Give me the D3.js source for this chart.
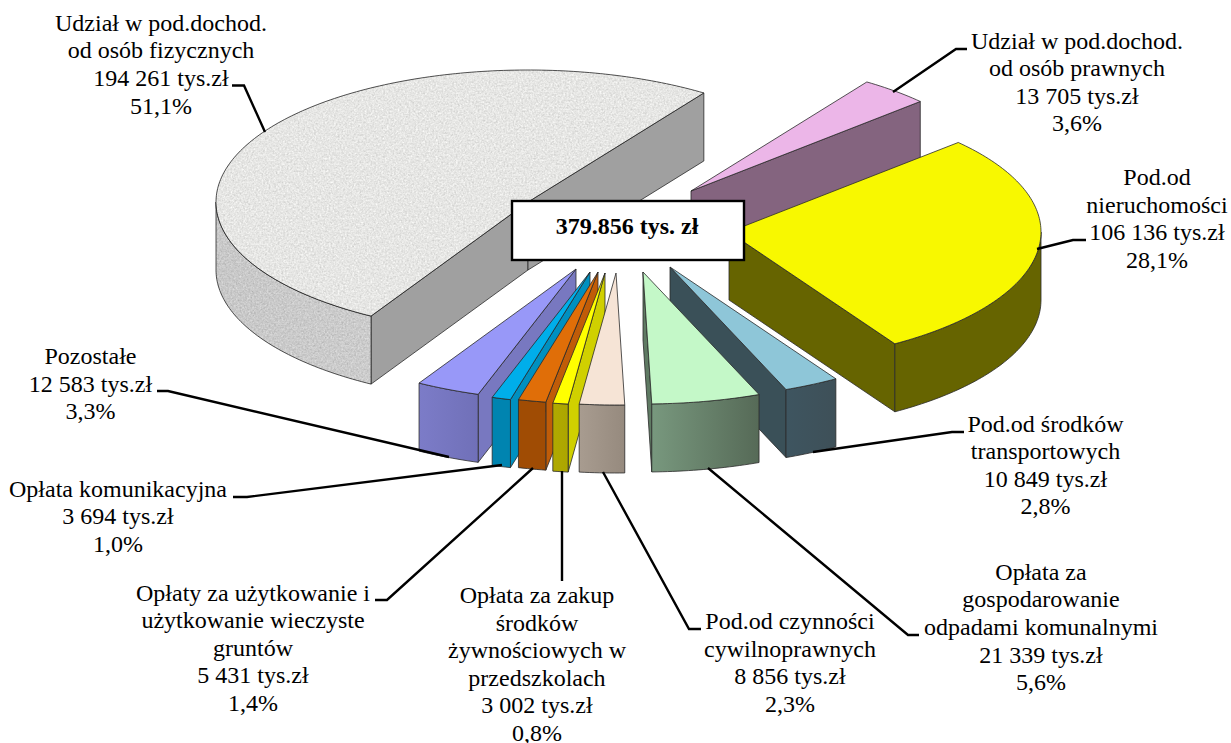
<!DOCTYPE html>
<html lang="pl">
<head>
<meta charset="utf-8">
<script src="https://cdn.jsdelivr.net/npm/d3@7"></script>
<style>
html,body{margin:0;padding:0;background:#fff;}
svg{display:block;}
text{font-family:"Liberation Serif","Times New Roman",serif;fill:#000;}
</style>
</head>
<body>
<svg id="chart" width="1231" height="743"></svg>
<script>
// ---------- data ----------
const categories = [
  "Udział w pod.dochod. od osób fizycznych",
  "Udział w pod.dochod. od osób prawnych",
  "Pod.od nieruchomości",
  "Pod.od środków transportowych",
  "Opłata za gospodarowanie odpadami komunalnymi",
  "Pod.od czynności cywilnoprawnych",
  "Opłata za zakup środków żywnościowych w przedszkolach",
  "Opłaty za użytkowanie i użytkowanie wieczyste gruntów",
  "Opłata komunikacyjna",
  "Pozostałe"
];
const values = [194261, 13705, 106136, 10849, 21339, 8856, 3002, 5431, 3694, 12583];
const percents = ["51,1%","3,6%","28,1%","2,8%","5,6%","2,3%","0,8%","1,4%","1,0%","3,3%"];
const amounts = ["194 261 tys.zł","13 705 tys.zł","106 136 tys.zł","10 849 tys.zł","21 339 tys.zł","8 856 tys.zł","3 002 tys.zł","5 431 tys.zł","3 694 tys.zł","12 583 tys.zł"];
const nameLines = [
  ["Udział w pod.dochod.","od osób fizycznych"],
  ["Udział w pod.dochod.","od osób prawnych"],
  ["Pod.od","nieruchomości"],
  ["Pod.od środków","transportowych"],
  ["Opłata za","gospodarowanie","odpadami komunalnymi"],
  ["Pod.od czynności","cywilnoprawnych"],
  ["Opłata za zakup","środków","żywnościowych w","przedszkolach"],
  ["Opłaty za użytkowanie i","użytkowanie wieczyste","gruntów"],
  ["Opłata komunikacyjna"],
  ["Pozostałe"]
];
const totalLabel = "379.856 tys. zł";

// ---------- layout and style ----------
const RX = 312, RY = 132, DEPTH = 68;
const START_DEG = 210.2;
const rad = d => d * Math.PI / 180;
// exploded centre of each slice
const centres = [[528,202],[691,191],[729,232],[670,267],[643,272],[616,273],[605,273],[598,272],[590,272],[576,269]];
const topColors  = ["#e6e6e4","#ecb6e8","#f8f800","#8ec6d8","#c4f8c8","#f6e4d6","#ffff00","#e06e08","#00aeea","#9898f8"];
const wallColors = ["#a0a0a0","#84647f","#666400","#3a5058","#5f7a63","#a09488","#d0d000","#c05c08","#0090c0","#7878c0"];
const rimFrom    = ["#c8c8c8","#84647f","#666400","#3e5560","#78987e","#a89c90","#b0aa00","#a04c04","#0084b0","#7c7cc8"];
const rimTo      = ["#cccccc","#84647f","#666400","#3e5058","#566a57","#968a7e","#aca600","#a04c04","#0084b0","#7070b8"];
const drawOrder = [1,0,2,3,4,9,8,7,6,5];
const labelCx = [161,1077,1157,1045.5,1041,790,537,253,118,90.5];
const labelY0 = [22.7,40.5,177,423.6,571.7,621,595,592.6,488.6,356];
const lineGap = 27.6;
const FONT = 24;
const leaders = [
  [[232,85.5],[244,85.5],[265,132]],
  [[967,49],[956,49],[893,92]],
  [[1086,240],[1073,240],[1037,249]],
  [[964,432],[952,432],[813,452]],
  [[919,635],[908,635],[708,468]],
  [[701,629],[689,629],[603,472]],
  [[562,581],[562,471]],
  [[375,600],[387,600],[533,468]],
  [[233,497],[247,497],[502,465]],
  [[157,391],[168,391],[449,457]]
];

// ---------- drawing ----------
const svg = d3.select("#chart");
const defs = svg.append("defs");

const tex = defs.append("filter").attr("id","stone")
  .attr("x","0").attr("y","0").attr("width","1").attr("height","1")
  .attr("color-interpolation-filters","sRGB");
tex.append("feTurbulence").attr("type","fractalNoise").attr("baseFrequency",0.55)
  .attr("numOctaves",3).attr("seed",4).attr("result","n");
tex.append("feColorMatrix").attr("in","n").attr("type","matrix")
  .attr("values","0.5 0.5 0 0 0  0.5 0.5 0 0 0  0.5 0.5 0 0 0  0 0 0 0 1").attr("result","g");
tex.append("feComposite").attr("in","SourceGraphic").attr("in2","g").attr("operator","arithmetic")
  .attr("k1",0).attr("k2",1).attr("k3",0.3).attr("k4",-0.15).attr("result","c");
tex.append("feComposite").attr("in","c").attr("in2","SourceAlpha").attr("operator","in");

const pie = d3.pie().sort(null).value(d => d)
  .startAngle(rad(START_DEG)).endAngle(rad(START_DEG) + 2 * Math.PI);
const arcs = pie(values);

const pt = (c, a, dz = 0) => [c[0] + RX * Math.sin(a), c[1] - RY * Math.cos(a) + dz];
const line = d3.line();
const sample = (a0, a1) => {
  const n = Math.max(2, Math.ceil(Math.abs(a1 - a0) / rad(1)));
  return d3.range(n + 1).map(i => a0 + (a1 - a0) * i / n);
};

const EDGE = "#2a2a2a";
drawOrder.forEach(i => {
  const d = arcs[i], c = centres[i];
  // angles past a full turn are brought back into 0..360 degrees
  const turn = d.startAngle >= 2 * Math.PI ? 2 * Math.PI : 0;
  const a0 = d.startAngle - turn, a1 = d.endAngle - turn;
  const g = svg.append("g").attr("class","slice");
  const wall = a => [c, pt(c,a), pt(c,a,DEPTH), [c[0], c[1] + DEPTH]];
  const textured = i === 0;

  // radial walls
  if (Math.cos(a0 - Math.PI / 2) < 0)
    g.append("path").attr("d", line(wall(a0)) + "Z").attr("fill", wallColors[i])
      .attr("stroke", EDGE).attr("stroke-width", 0.8).attr("stroke-linejoin","round");
  if (Math.cos(a1 + Math.PI / 2) < 0)
    g.append("path").attr("d", line(wall(a1)) + "Z").attr("fill", wallColors[i])
      .attr("stroke", EDGE).attr("stroke-width", 0.8).attr("stroke-linejoin","round");

  // outer rim, front half only
  const r0 = Math.max(a0, rad(90)), r1 = Math.min(a1, rad(270));
  if (r1 > r0) {
    const top = sample(r0, r1).map(a => pt(c, a));
    const bot = sample(r0, r1).reverse().map(a => pt(c, a, DEPTH));
    const xs = top.map(p => p[0]);
    const gid = "rim" + i;
    const lg = defs.append("linearGradient").attr("id", gid)
      .attr("gradientUnits","userSpaceOnUse")
      .attr("x1", d3.min(xs)).attr("x2", d3.max(xs)).attr("y1",0).attr("y2",0);
    lg.append("stop").attr("offset",0).attr("stop-color", rimFrom[i]);
    lg.append("stop").attr("offset",1).attr("stop-color", rimTo[i]);
    const dd = line(top.concat(bot)) + "Z";
    const rim = g.append("path").attr("d", dd).attr("fill", `url(#${gid})`);
    if (textured) rim.attr("filter","url(#stone)");
    g.append("path").attr("d", dd).attr("fill","none").attr("stroke", EDGE)
      .attr("stroke-width", 0.8).attr("stroke-linejoin","round");
  }

  // top face
  const face = line([c].concat(sample(a0, a1).map(a => pt(c, a)))) + "Z";
  const f = g.append("path").attr("d", face).attr("fill", topColors[i]);
  if (textured) f.attr("filter","url(#stone)");
  g.append("path").attr("d", face).attr("fill","none").attr("stroke", EDGE)
    .attr("stroke-width", 0.8).attr("stroke-linejoin","round");
});

// leader lines
svg.append("g").selectAll("path").data(leaders).join("path")
  .attr("d", p => line(p)).attr("fill","none").attr("stroke","#000")
  .attr("stroke-width", 2.4).attr("stroke-linejoin","miter");

// labels
const labels = svg.append("g").attr("font-size", FONT).attr("text-anchor","middle");
categories.forEach((cat, i) => {
  const rows = nameLines[i].concat([amounts[i], percents[i]]);
  const t = labels.append("text").attr("data-category", cat);
  rows.forEach((r, k) => {
    t.append("tspan").attr("x", labelCx[i]).attr("y", labelY0[i] + k * lineGap)
      .attr("dominant-baseline","central").text(r);
  });
});

// central total box
svg.append("rect").attr("x",512).attr("y",201).attr("width",232).attr("height",59)
  .attr("fill","#fff").attr("stroke","#000").attr("stroke-width",2.4);
svg.append("text").attr("x",627).attr("y",226).attr("text-anchor","middle")
  .attr("dominant-baseline","central").attr("font-size",24).attr("font-weight","bold")
  .text(totalLabel);
</script>
</body>
</html>
